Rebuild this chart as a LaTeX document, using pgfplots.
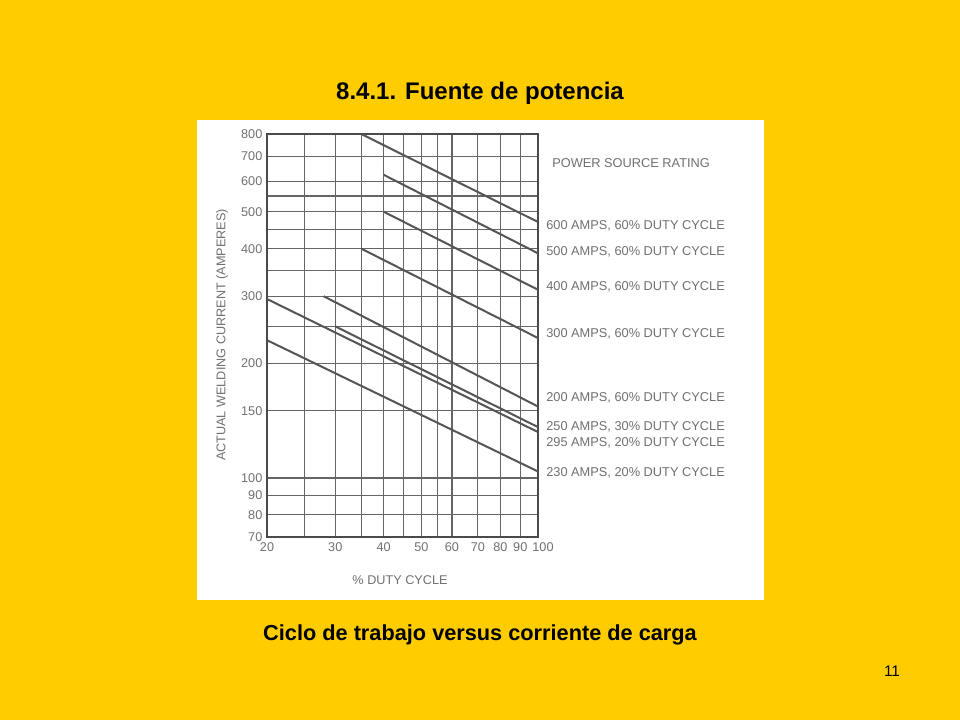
\documentclass[border=0pt]{standalone}
\usepackage{pgfplots}
\pgfplotsset{compat=1.18}
\usepackage{fontspec}
\setmainfont{Liberation Sans}
\definecolor{slidebg}{HTML}{FFCC00}
\definecolor{gridc}{HTML}{666666}
\definecolor{framec}{HTML}{4A4A4A}
\definecolor{linec}{HTML}{555555}
\definecolor{labc}{HTML}{707070}

\begin{document}
\begin{tikzpicture}[x=0.75pt,y=-0.75pt]
% slide and white panel
\fill[slidebg] (0,0) rectangle (960,720);
\fill[white] (197,120) rectangle (764,600);

\begin{axis}[
    at={(200.25pt,-402.75pt)}, anchor=south west,
    scale only axis, width=203.25pt, height=302.25pt,
    xmode=log, ymode=log,
    xmin=20, xmax=100, ymin=70, ymax=800,
    xtick={20,30,40,50,60,70,80,90,100},
    xticklabels={20,30,40,50,60,70,80,90,\hspace*{7.5pt}100},
    minor xtick={25,35,45,55},
    ytick={70,80,90,100,150,200,300,400,500,600,700,800},
    yticklabels={70,80,90,100,150,200,300,400,500,600,700,800},
    minor ytick={250,350,450,550},
    grid=both,
    major grid style={draw=gridc, line width=0.8pt},
    minor grid style={draw=gridc, line width=0.8pt},
    major tick length=0pt, minor tick length=0pt,
    axis line style={draw=framec, line width=1.3pt},
    tick label style={font=\fontsize{9.5}{10}\selectfont, text=labc},
    xticklabel style={yshift=-1pt},
    rating/.style={draw=linec, line width=1.5pt, solid, mark=none},
]
% 600 A, 60 %
\addplot[rating] coordinates {(35,800) (100,470)};
% 500 A, 60 %
\addplot[rating] coordinates {(40,625) (100,389)};
% 400 A, 60 %
\addplot[rating] coordinates {(40,500) (100,312)};
% 300 A, 60 %
\addplot[rating] coordinates {(35,400) (100,233)};
% 200 A, 60 %
\addplot[rating] coordinates {(28,300) (100,154)};
% 250 A, 30 %
\addplot[rating] coordinates {(30,250) (100,136)};
% 295 A, 20 %
\addplot[rating] coordinates {(20,295) (100,132)};
% 230 A, 20 %
\addplot[rating] coordinates {(20,230) (100,104)};
\end{axis}

% axis titles
\node[rotate=90, text=labc, font=\fontsize{9.5}{10}\selectfont] at (222,335) {ACTUAL WELDING CURRENT (AMPERES)};
\node[text=labc, font=\fontsize{9.5}{10}\selectfont] at (400,580) {\% DUTY CYCLE};

% rating labels
\begin{scope}[every node/.style={anchor=west, text=labc, font=\fontsize{9.6}{10}\selectfont, inner sep=0pt}]
\node at (552,163) {POWER SOURCE RATING};
\node at (546,226) {600 AMPS, 60\% DUTY CYCLE};
\node at (546,252) {500 AMPS, 60\% DUTY CYCLE};
\node at (546,287) {400 AMPS, 60\% DUTY CYCLE};
\node at (546,334) {300 AMPS, 60\% DUTY CYCLE};
\node at (546,398) {200 AMPS, 60\% DUTY CYCLE};
\node at (546,427) {250 AMPS, 30\% DUTY CYCLE};
\node at (546,443) {295 AMPS, 20\% DUTY CYCLE};
\node at (546,473) {230 AMPS, 20\% DUTY CYCLE};
\end{scope}

% slide texts
\node[font=\fontsize{18}{20}\selectfont\bfseries] at (480,93) {8.4.1. Fuente de potencia};
\node[font=\fontsize{16.3}{18}\selectfont\bfseries] at (480,635) {Ciclo de trabajo versus corriente de carga};
\node[font=\fontsize{11.5}{13}\selectfont] at (892,671) {11};
\end{tikzpicture}
\end{document}
